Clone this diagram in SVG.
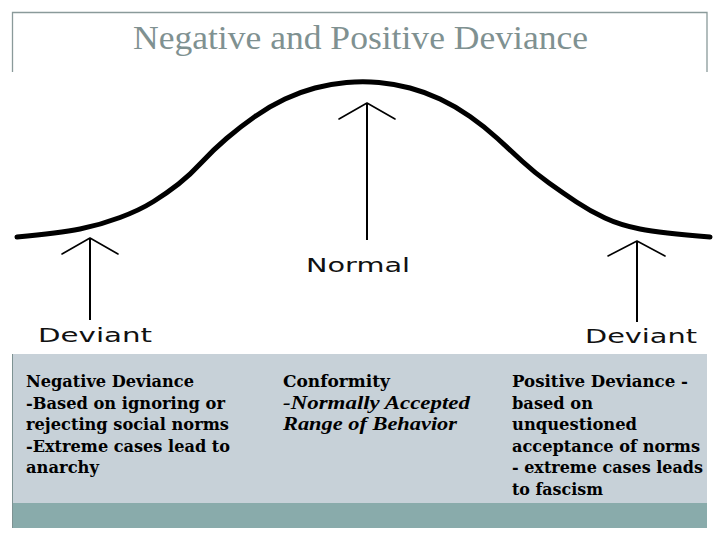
<svg xmlns="http://www.w3.org/2000/svg" width="720" height="540" viewBox="0 0 720 540">
<style>
.frame{fill:none;stroke:#8a9a9a;stroke-width:1.3}
.title{font-family:"Liberation Serif","Times New Roman",serif;font-size:33px;fill:#7f9191}
.lbl{font-family:"DejaVu Sans","Verdana",sans-serif;font-size:19px;fill:#111}
.body{font-family:"DejaVu Serif","Liberation Serif",serif;font-size:16px;font-weight:bold;fill:#000}
.arr{stroke:#000;stroke-width:2;fill:none}
.head{stroke:#000;stroke-width:1.6;fill:none;stroke-linecap:round;stroke-linejoin:round}
</style>
<rect width="720" height="540" fill="#fff"/>
<path class="frame" d="M12.5,72 V12.5 H707 V72"/>
<text class="title" x="133" y="49" textLength="455" lengthAdjust="spacingAndGlyphs">Negative and Positive Deviance</text>

<path id="curve" d="M17,237 Q60,233 80,229 Q100,225 120,217.5 Q140,210 153.5,201.5 Q167,193 178.5,184 Q190,175 201.5,162.5 Q213,150 226.5,138.5 Q240,127 255,116.5 Q270,106 285,99 Q300,92 315,88 Q330,84 346.5,82.5 Q363,81 379,82.5 Q395,84 410,88 Q425,92 440,99 Q455,106 470,116.5 Q485,127 497.5,138.5 Q510,150 522.5,161.5 Q535,173 549,183 Q563,193 576.5,202 Q590,211 605,218 Q620,225 640,229 Q660,233 710,237" fill="none" stroke="#000" stroke-width="5" stroke-linecap="round"/>

<g id="connectors">
  <line class="arr" x1="90" y1="239" x2="90" y2="320"/>
  <polyline class="head" points="62,254 90,238 118,254"/>
  <line class="arr" x1="367" y1="104" x2="367" y2="240"/>
  <polyline class="head" points="339,119 367,103 395,119"/>
  <line class="arr" x1="637" y1="242" x2="637" y2="322"/>
  <polyline class="head" points="608,256 637,241 665,256"/>
</g>

<g id="label-normal"><text class="lbl" x="306" y="272" textLength="104" lengthAdjust="spacingAndGlyphs">Normal</text></g>
<g id="label-deviant-left"><text class="lbl" x="38" y="342" textLength="114" lengthAdjust="spacingAndGlyphs">Deviant</text></g>
<g id="label-deviant-right"><text class="lbl" x="585" y="343" textLength="112" lengthAdjust="spacingAndGlyphs">Deviant</text></g>

<g id="panel">
  <rect x="12" y="354" width="695" height="149" fill="#c7d1d8"/>
  <rect x="12" y="503" width="695" height="25" fill="#89abab"/>
  <line x1="12.5" y1="354" x2="12.5" y2="528" stroke="#7d9292" stroke-width="1"/>
</g>

<g id="negative">
  <text class="body" x="26" y="387" textLength="168" lengthAdjust="spacingAndGlyphs">Negative Deviance</text>
  <text class="body" x="26" y="408.5" textLength="199" lengthAdjust="spacingAndGlyphs">-Based on ignoring or</text>
  <text class="body" x="26" y="430" textLength="203" lengthAdjust="spacingAndGlyphs">rejecting social norms</text>
  <text class="body" x="26" y="451.5" textLength="204" lengthAdjust="spacingAndGlyphs">-Extreme cases lead to</text>
  <text class="body" x="26" y="473" textLength="73" lengthAdjust="spacingAndGlyphs">anarchy</text>
</g>

<g id="conformity">
  <text class="body" x="283" y="387" textLength="107" lengthAdjust="spacingAndGlyphs">Conformity</text>
  <text x="283" y="408.5" textLength="187" lengthAdjust="spacingAndGlyphs" style="font-family:'Liberation Serif',serif;font-size:18px;font-style:italic;font-weight:bold;fill:#000">-Normally Accepted</text>
  <text x="283" y="430" textLength="174" lengthAdjust="spacingAndGlyphs" style="font-family:'Liberation Serif',serif;font-size:18px;font-style:italic;font-weight:bold;fill:#000">Range of Behavior</text>
</g>

<g id="positive">
  <text class="body" x="512" y="387" textLength="176" lengthAdjust="spacingAndGlyphs">Positive Deviance -</text>
  <text class="body" x="512" y="408.5" textLength="81" lengthAdjust="spacingAndGlyphs">based on</text>
  <text class="body" x="512" y="430" textLength="125" lengthAdjust="spacingAndGlyphs">unquestioned</text>
  <text class="body" x="512" y="451.5" textLength="188" lengthAdjust="spacingAndGlyphs">acceptance of norms</text>
  <text class="body" x="512" y="473" textLength="191" lengthAdjust="spacingAndGlyphs">- extreme cases leads</text>
  <text class="body" x="512" y="494.5" textLength="91" lengthAdjust="spacingAndGlyphs">to fascism</text>
</g>
</svg>
